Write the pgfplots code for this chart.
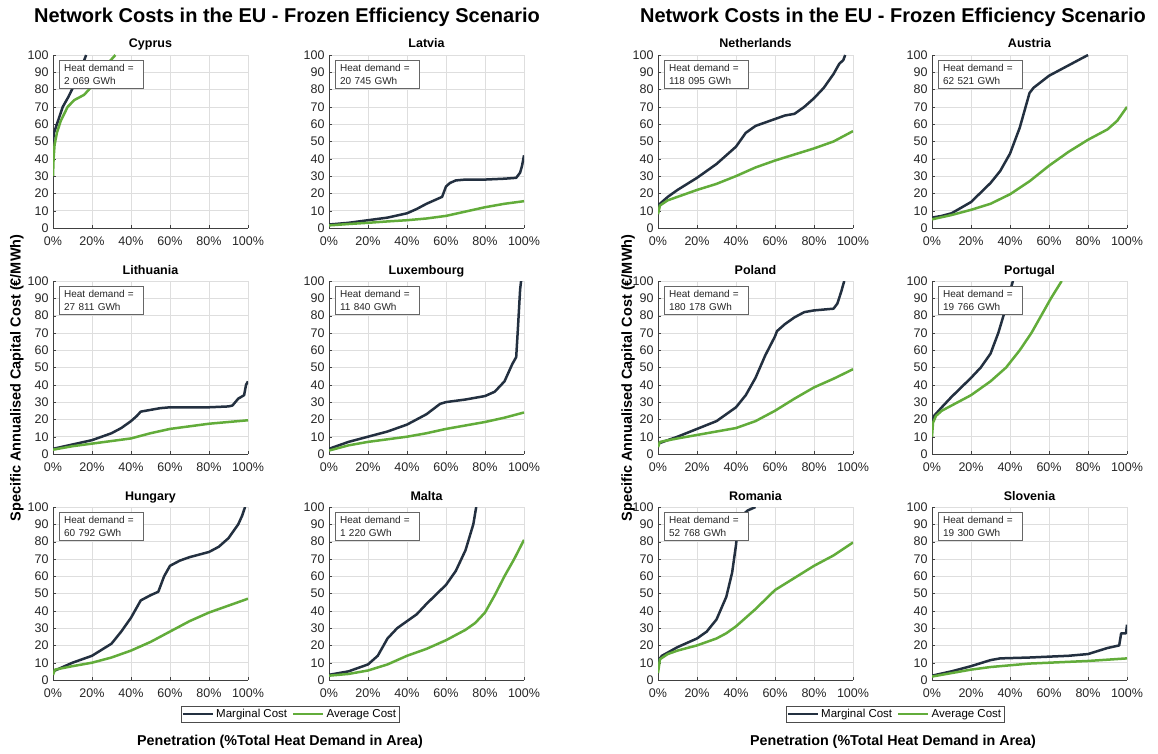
\documentclass[border=0pt]{standalone}
\usepackage{fontspec}
\setmainfont{Liberation Sans}
\usepackage{pgfplots}
\pgfplotsset{compat=1.18}
\definecolor{marg}{RGB}{35,48,64}
\definecolor{avg}{RGB}{98,172,58}

\pgfplotsset{
  panel/.style={
    scale only axis, width=195pt, height=173pt,
    anchor=north west,
    xmin=0, xmax=100, ymin=0, ymax=100,
    xtick={0,20,...,100}, xticklabels={0\%,20\%,40\%,60\%,80\%,100\%},
    ytick={0,10,...,100},
    /pgf/number format/assume math mode=true,
    grid=major, major grid style={black!13, line width=0.6pt},
    axis x line*=bottom, axis y line*=left,
    axis line style={-, black!75, line width=0.7pt},
    tick align=inside, major tick length=3pt, tick style={black!75},
    ticklabel style={font=\fontsize{12.5}{13}\selectfont, text=black!85},
    xticklabel style={yshift=-5pt},
    yticklabel style={xshift=-1pt},
    title style={font=\bfseries\fontsize{12.5}{14}\selectfont,
      at={(0.5,1)}, anchor=base, yshift=1pt},
  },
  mline/.style={color=marg, line width=2.5pt, line join=round, no markers},
  aline/.style={color=avg, line width=2.5pt, line join=round, no markers},
  costlegend/.style={
    legend entries={Marginal Cost, Average Cost},
    legend columns=2,
    legend style={at={(1.215,-0.197)}, anchor=center, draw=black!70,
      font=\fontsize{11.5}{12}\selectfont, inner sep=1pt,
      /tikz/every even column/.append style={column sep=3pt}},
    legend image code/.code={\draw[#1, line width=2.5pt] (0pt,0pt) -- (30pt,0pt);},
  },
}

% one country panel: x, y (top-left, pt), name, heat demand, extra options,
% marginal cost curve, average cost curve
\newcommand\panel[7]{%
  \begin{axis}[panel, at={(#1pt,-#2pt)}, title={#3}, #5]
    \addplot[mline] coordinates {#6};
    \addplot[aline] coordinates {#7};
    \node[draw=black!60, fill=white, align=left, anchor=north west,
      font=\fontsize{10}{12.5}\selectfont, inner xsep=5pt, inner ysep=4pt,
      text width=74pt, text=black!85]
      at (rel axis cs:0.03,0.97) {\mbox{Heat demand =}\\#4 GWh};
  \end{axis}%
}

\begin{document}
\begin{tikzpicture}
\useasboundingbox (0,0) rectangle (1158pt,-754pt);

% ---------------- left block ----------------
\panel{53}{55}{Cyprus}{2 069}{}
 {(0,50) (0.5,55) (2,60) (3.5,65) (5,70) (8,76) (11,83) (14,91) (17,100)}
 {(0,30) (0.3,40) (0.8,48) (2,55) (4,62) (7.5,70) (11,74) (16,77) (20,82) (24,90) (28,95) (32,100)}

\panel{329}{55}{Latvia}{20 745}{}
 {(0,2) (10,3) (20,4.5) (30,6) (40,8.5) (45,11) (50,14) (55,16.5) (58,18) (59,21) (60,24) (62,26) (65,27.5) (70,28) (80,28) (90,28.5) (96,29) (98,32) (99,36) (100,42)}
 {(0,1.5) (10,2.3) (20,3) (30,3.8) (40,4.5) (50,5.5) (60,7) (70,9.5) (80,12) (90,14) (100,15.5)}

\panel{53}{281}{Lithuania}{27 811}{}
 {(0,3) (10,5.5) (20,8) (30,12) (35,15) (40,19) (43,22) (45,24.5) (50,25.5) (55,26.5) (60,27) (70,27) (80,27) (90,27.5) (92,28) (95,32) (98,34) (99,40) (100,42)}
 {(0,2.5) (10,4.5) (20,6) (30,7.5) (40,9) (50,12) (60,14.5) (70,16) (80,17.5) (90,18.5) (100,19.5)}

\panel{329}{281}{Luxembourg}{11 840}{}
 {(0,3) (10,7) (20,10) (30,13) (40,17) (50,23) (57,29) (60,30) (70,31.5) (80,33.5) (85,36) (90,42) (94,52) (96,56) (97,75) (98,95) (98.5,100)}
 {(0,2) (10,5) (20,7) (30,8.5) (40,10) (50,12) (60,14.5) (70,16.5) (80,18.5) (90,21) (100,24)}

\panel{53}{507}{Hungary}{60 792}{costlegend}
 {(0,5) (10,10) (20,14) (30,21) (35,28) (40,36) (45,46) (50,49) (54,51) (57,60) (60,66) (65,69) (70,71) (80,74) (85,77) (90,82) (95,90) (97,95) (98.5,100)}
 {(0,3) (1,6) (10,8) (20,10) (30,13) (40,17) (50,22) (60,28) (70,34) (80,39) (90,43) (100,47)}

\panel{329}{507}{Malta}{1 220}{}
 {(0,3) (10,5) (20,9) (25,14) (30,24) (35,30) (40,34) (45,38) (50,44) (60,55) (65,63) (70,75) (74,90) (75.5,100)}
 {(0,2.5) (10,3.5) (20,5.5) (30,9) (40,14) (50,18) (60,23) (70,29) (75,33) (80,39) (85,49) (90,60) (95,70) (100,81)}

% ---------------- right block ----------------
\panel{658}{55}{Netherlands}{118 095}{}
 {(0,13) (5,18) (10,22) (20,29) (30,37) (40,47) (45,55) (50,59) (60,63) (65,65) (70,66) (75,70) (80,75) (85,81) (90,89) (93,95) (95,97) (96,100)}
 {(0,8) (1,13) (5,16) (10,18) (20,22) (30,25.5) (40,30) (50,35) (60,39) (70,42.5) (80,46) (90,50) (95,53) (100,56)}

\panel{932}{55}{Austria}{62 521}{}
 {(0,6) (5,7) (10,8.5) (20,15) (30,26) (35,33) (40,43) (45,58) (50,78) (52,81) (60,88) (70,94) (80,100)}
 {(0,5) (10,7.5) (20,10.5) (30,14) (40,19.5) (50,27) (60,36) (70,44) (80,51) (90,57) (95,62) (100,70)}

\panel{658}{281}{Poland}{180 178}{}
 {(0,6) (10,10) (20,14.5) (30,19) (40,27) (45,34) (50,44) (55,57) (60,68) (61,71) (65,75) (70,79) (75,82) (80,83) (90,84) (92,87) (94,94) (95.5,100)}
 {(0,4) (1,7) (10,9) (20,11) (30,13) (40,15) (50,19) (60,25) (70,32) (80,38.5) (90,43.5) (100,49)}

\panel{932}{281}{Portugal}{19 766}{}
 {(0,18) (1,22) (5,27) (10,33) (20,44) (25,50) (30,58) (34,70) (38,85) (40,94) (41.5,100)}
 {(0,10) (0.5,18) (2,22) (5,25) (10,28) (20,34) (30,42) (38,50) (45,60) (51,70) (56,80) (61,90) (66.5,100)}

\panel{658}{507}{Romania}{52 768}{costlegend}
 {(0,11) (2,14) (10,19) (20,24) (25,28) (30,35) (35,48) (38,62) (40,78) (41,90) (43,95) (46,98) (50,100)}
 {(0,4) (1,12) (5,15) (10,17) (20,20) (30,24) (35,27) (40,31) (50,41) (60,52) (70,59) (80,66) (90,72) (100,79.5)}

\panel{932}{507}{Slovenia}{19 300}{}
 {(0,2.5) (10,5) (20,8) (30,11.5) (35,12.5) (50,13) (70,14) (80,15) (90,18.5) (96,20) (97,27) (99.5,27) (100,32)}
 {(0,2) (10,4) (20,6) (30,7.5) (40,8.5) (50,9.5) (60,10) (80,11) (100,12.5)}

% ---------------- titles and axis labels ----------------
\node[font=\bfseries\fontsize{20}{22}\selectfont] at (287pt,-17pt)
  {Network Costs in the EU - Frozen Efficiency Scenario};
\node[font=\bfseries\fontsize{20}{22}\selectfont] at (893pt,-17pt)
  {Network Costs in the EU - Frozen Efficiency Scenario};
\node[rotate=90, font=\bfseries\fontsize{14.5}{16}\selectfont] at (17pt,-378pt)
  {Specific Annualised Capital Cost (€/MWh)};
\node[rotate=90, font=\bfseries\fontsize{14.5}{16}\selectfont] at (628pt,-378pt)
  {Specific Annualised Capital Cost (€/MWh)};
\node[font=\bfseries\fontsize{14.3}{16}\selectfont] at (280pt,-742pt)
  {Penetration (\%Total Heat Demand in Area)};
\node[font=\bfseries\fontsize{14.3}{16}\selectfont] at (893pt,-742pt)
  {Penetration (\%Total Heat Demand in Area)};
\end{tikzpicture}
\end{document}
